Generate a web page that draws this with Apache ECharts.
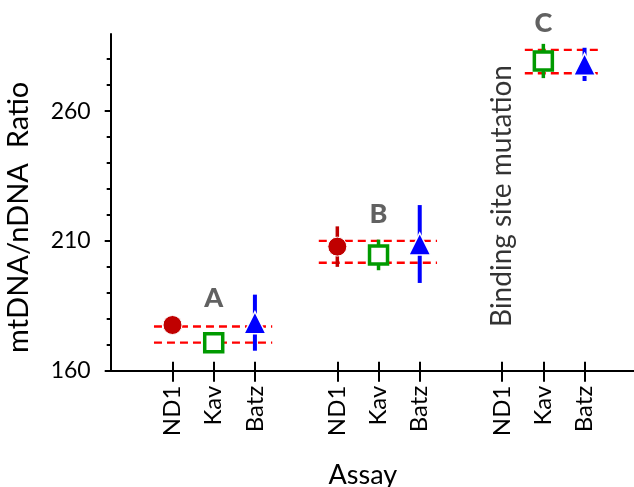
<!DOCTYPE html>
<html>
<head>
<meta charset="utf-8">
<script src="https://cdn.jsdelivr.net/npm/echarts@6/dist/echarts.min.js"></script>
<style>
html,body{margin:0;padding:0;background:#fff;}
#chart{width:634px;height:487px;}
</style>
</head>
<body>
<div id="chart"></div>
<script>
// ---- data ----
const groupLabels = ['A', 'B', 'C'];
const methods = ['ND1', 'Kav', 'Batz'];
const groupSlots = [1, 5, 9];            // first category slot of each group
const nd1Mean = [177.6, 207.8, null];
const nd1Err = [3, 7.8, null];
const kavMean = [170.8, 204.6, 279.3];
const kavErr = [3, 5.9, 6.6];
const batzMean = [178.5, 208.8, 278.0];
const batzErr = [10.8, 15.0, 6.4];
const refUpper = [177.0, 210.0, 283.6];
const refLower = [170.8, 201.6, 274.6];
const letterY = [188.0, 220.3, 293.9];
const noteText = 'Binding site mutation';
const noteY = 227.3;
const yTickLabels = [160, 210, 260];
const yMinorTicks = [170, 180, 190, 200, 220, 230, 240, 250, 270, 280];

// ---- build ----
const font = 'Lato';
const colors = { ND1: '#C00000', Kav: '#009A00', Batz: '#0000FF' };
const means = { ND1: nd1Mean, Kav: kavMean, Batz: batzMean };
const errs = { ND1: nd1Err, Kav: kavErr, Batz: batzErr };

const tickPositions = [];
const tickNames = {};
groupSlots.forEach(s => methods.forEach((m, i) => { tickPositions.push(s + i); tickNames[s + i] = m; }));

function pts(m) {
  const out = [];
  groupSlots.forEach((s, g) => {
    const v = means[m][g];
    if (v != null) out.push([s + methods.indexOf(m), v, errs[m][g]]);
  });
  return out;
}

const series = [];
// dashed reference lines
groupSlots.forEach((s, g) => {
  const firstIdx = methods.findIndex(m => means[m][g] != null);
  const x0 = s + firstIdx - 0.45, x1 = s + 2 + 0.42;
  [refUpper[g], refLower[g]].forEach(v => {
    series.push({
      type: 'line', xAxisIndex: 0, yAxisIndex: 0, silent: true, symbol: 'none',
      data: [[x0, v], [x1, v]],
      lineStyle: { color: '#FF0000', width: 2.4, type: [8, 5] }, z: 1
    });
  });
});
// error bars
methods.forEach(m => {
  series.push({
    type: 'custom', xAxisIndex: 0, yAxisIndex: 0, silent: true, z: 2,
    data: pts(m),
    renderItem: function (params, api) {
      const x = api.value(0), v = api.value(1), e = api.value(2);
      const p1 = api.coord([x, v - e]);
      const p2 = api.coord([x, v + e]);
      return {
        type: 'line',
        shape: { x1: p1[0], y1: p1[1], x2: p2[0], y2: p2[1] },
        style: { stroke: colors[m], lineWidth: m === 'Batz' ? 4 : 3.5 }
      };
    }
  });
});
// markers
series.push({
  type: 'scatter', name: 'ND1', data: pts('ND1'), symbol: 'circle', symbolSize: 19, z: 3,
  itemStyle: { color: colors.ND1, borderColor: '#fff', borderWidth: 1, opacity: 1 }
});
series.push({
  type: 'scatter', name: 'Kav', data: pts('Kav'), symbol: 'rect', symbolSize: 18, z: 3,
  itemStyle: { color: '#fff', borderColor: colors.Kav, borderWidth: 3.5, opacity: 1 }
});
series.push({
  type: 'scatter', name: 'Batz', data: pts('Batz'), symbol: 'triangle', symbolSize: [22, 22], z: 3,
  itemStyle: { color: colors.Batz, borderColor: '#fff', borderWidth: 1.5, opacity: 1 }
});
// group letters
series.push({
  type: 'scatter', silent: true, clip: false, symbolSize: 0, z: 4,
  data: groupLabels.map((l, g) => ({ value: [groupSlots[g] + 1, letterY[g]], name: l })),
  label: { show: true, position: 'inside', formatter: p => p.name,
    fontFamily: font, fontWeight: 900, fontSize: 27, color: '#3a3a3a' }
});
// note
series.push({
  type: 'scatter', silent: true, clip: false, symbolSize: 0, z: 4,
  data: [{ value: [groupSlots[2], noteY], name: noteText }],
  label: { show: true, position: 'inside', rotate: 90, formatter: p => p.name,
    fontFamily: font, fontSize: 28, color: '#000' }
});

const option = {
  animation: false,
  backgroundColor: '#fff',
  grid: { left: 110.7, right: 0, top: 34, bottom: 116.3, containLabel: false, outerBoundsMode: 'none' },
  xAxis: [{
    type: 'value', min: -0.5, max: 12.2,
    name: 'Assay', nameLocation: 'middle', nameGap: 91,
    nameTextStyle: { fontFamily: font, fontSize: 27, color: '#000', padding: [0, 19, 0, 0] },
    axisLine: { show: true, onZero: false, lineStyle: { color: '#000', width: 2 } },
    axisTick: { show: true, customValues: tickPositions, length: 11, lineStyle: { color: '#000', width: 2 } },
    axisLabel: { show: true, customValues: tickPositions, rotate: 90, margin: 15,
      formatter: v => tickNames[Math.round(v)] || '',
      fontFamily: font, fontSize: 24, color: '#000' },
    splitLine: { show: false }
  }, {
    type: 'value', min: -0.5, max: 12.2, position: 'bottom',
    axisLine: { show: false, onZero: false },
    axisTick: { show: true, inside: true, customValues: tickPositions, length: 9, lineStyle: { color: '#000', width: 2 } },
    axisLabel: { show: false }, splitLine: { show: false }
  }],
  yAxis: [{
    type: 'value', min: 160, max: 289.7,
    name: 'mtDNA/nDNA  Ratio', nameLocation: 'middle', nameGap: 78,
    nameTextStyle: { fontFamily: font, fontSize: 29, color: '#000', padding: [0, 30, 0, 0] },
    axisLine: { show: true, onZero: false, lineStyle: { color: '#000', width: 2 } },
    axisTick: { show: true, customValues: yTickLabels, length: 6, lineStyle: { color: '#000', width: 2 } },
    axisLabel: { show: true, customValues: yTickLabels, margin: 20, fontFamily: font, fontSize: 23, color: '#000' },
    splitLine: { show: false }
  }, {
    type: 'value', min: 160, max: 289.7, position: 'left',
    axisLine: { show: false, onZero: false },
    axisTick: { show: true, customValues: yMinorTicks, length: 4, lineStyle: { color: '#000', width: 2 } },
    axisLabel: { show: false }, splitLine: { show: false }
  }],
  series: series
};

const chart = echarts.init(document.getElementById('chart'), null, { renderer: 'canvas' });
chart.setOption(option);
</script>
</body>
</html>
